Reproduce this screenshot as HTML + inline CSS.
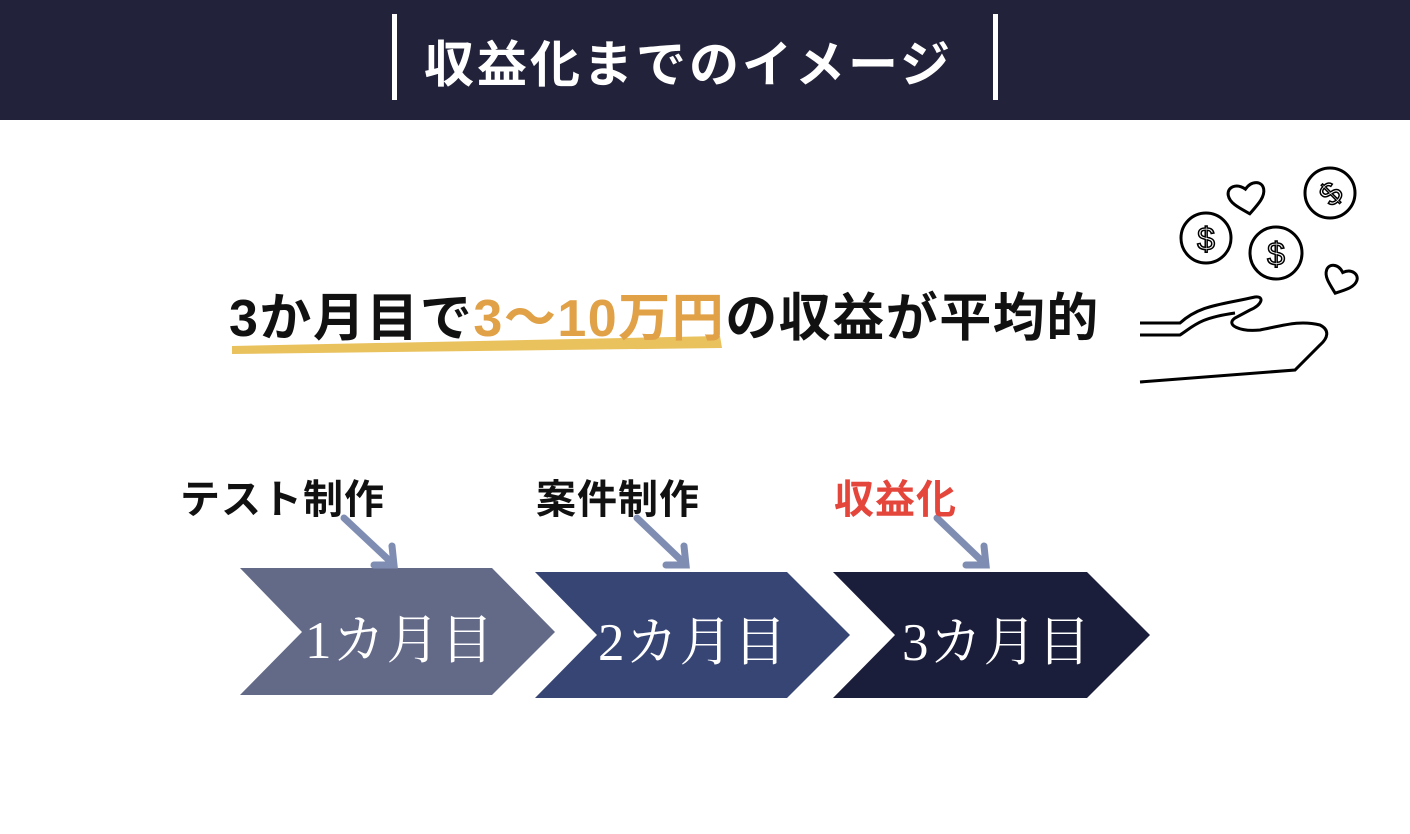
<!DOCTYPE html>
<html><head><meta charset="utf-8"><style>
body{margin:0;width:1410px;height:834px;background:#fff;position:relative;overflow:hidden;font-family:"Liberation Sans","Noto Sans CJK JP",sans-serif}
.hdr{position:absolute;left:0;top:0;width:1410px;height:120px;background:#22223a}
.t{position:absolute;white-space:nowrap;font-weight:bold}
.c{position:absolute;white-space:nowrap;font-size:53px;color:#fff;letter-spacing:1px;font-family:'Liberation Serif','Noto Serif CJK SC',serif}
</style></head><body>
<div class="hdr"></div>
<div style="position:absolute;left:392px;top:14px;width:5px;height:86px;background:#fff"></div>
<div style="position:absolute;left:993px;top:14px;width:5px;height:86px;background:#fff"></div>
<div class="t" style="left:424px;top:25px;font-size:50px;color:#fff;letter-spacing:3px">収益化までのイメージ</div>

<svg style="position:absolute;left:0;top:0" width="1410" height="834">
<path d="M232 346 L 720 336 L 722 348 L 232 354 Z" fill="#e9c25e"/>
<polygon points="240,568 492,568 555,632 492,695 240,695 302,632" fill="#636a88"/>
<polygon points="535,572 787,572 850,635 787,698 535,698 597,635" fill="#374575"/>
<polygon points="833,572 1087,572 1150,635 1087,698 833,698 895,635" fill="#1b1e3a"/>
<g stroke="#7f8db3" stroke-width="7" stroke-linecap="round" fill="none">
<path d="M344 518 L392 563 M374 565 L394 565 L392 546"/>
<path d="M637 518 L684 563 M666 565 L686 565 L684 546"/>
<path d="M937 518 L984 563 M966 565 L986 565 L984 546"/>
</g>
<g stroke="#000" stroke-width="3" fill="none">
<circle cx="1206" cy="238" r="25"/><circle cx="1276" cy="253" r="26"/><circle cx="1330" cy="193" r="25"/>
<text x="1206" y="250" font-size="32" text-anchor="middle" stroke-width="1.5" fill="none" font-family="Liberation Sans">$</text>
<text x="1276" y="265" font-size="32" text-anchor="middle" stroke-width="1.5" fill="none" font-family="Liberation Sans">$</text>
<text x="1330" y="205" font-size="32" text-anchor="middle" stroke-width="1.5" fill="none" font-family="Liberation Sans" transform="rotate(-45 1330 193)">$</text>
<path transform="translate(1247,198) rotate(-10)" d="M0 16 C-10 8 -18 2 -18 -6 C-18 -14 -8 -17 0 -9 C8 -17 18 -14 18 -6 C18 2 10 8 0 16 Z"/>
<path transform="translate(1340,280) rotate(20)" d="M0 14 C-9 7 -16 2 -16 -5 C-16 -12 -7 -15 0 -8 C7 -15 16 -12 16 -5 C16 2 9 7 0 14 Z"/>
<path d="M1140 323 L1180 323 C1200 305 1220 305 1255 297 C1265 296 1262 305 1250 310 L1235 318 C1225 325 1240 332 1260 330 C1285 325 1300 320 1320 325 C1330 330 1328 338 1320 345 L1295 370 L1140 382"/>
<path d="M1140 335 L1180 335 C1195 325 1200 318 1235 313"/>
</g>
</svg>

<div class="t" style="left:229px;top:276px;font-size:52px;color:#111;letter-spacing:1.5px">3か月目で<span style="color:#e0a147">3〜10万円</span>の収益が平均的</div>
<div class="t" style="left:180px;top:467px;font-size:40px;color:#111;letter-spacing:1px">テスト制作</div>
<div class="t" style="left:536px;top:467px;font-size:40px;color:#111;letter-spacing:1px">案件制作</div>
<div class="t" style="left:834px;top:467px;font-size:40px;color:#e4463c;letter-spacing:1px">収益化</div>
<div class="c" style="left:305px;top:598px">1カ月目</div>
<div class="c" style="left:598px;top:600px">2カ月目</div>
<div class="c" style="left:902px;top:600px">3カ月目</div>
</body></html>
